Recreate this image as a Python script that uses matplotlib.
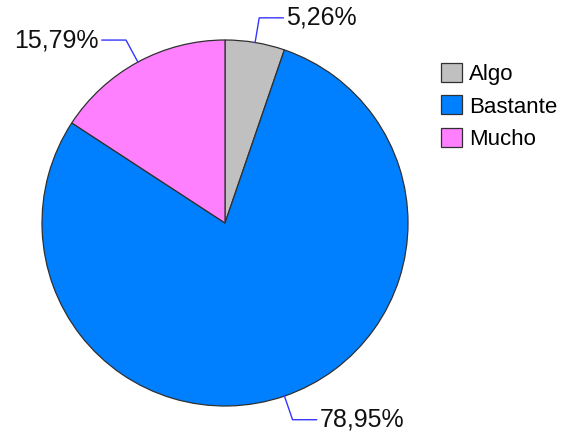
import numpy as np
import matplotlib.pyplot as plt
from matplotlib.patches import Patch

labels = ['Algo', 'Bastante', 'Mucho']
values = [5.26, 78.95, 15.79]
colors = ['#C0C0C0', '#0080FF', '#FF80FF']

W, H = 563, 436
fig = plt.figure(figsize=(W / 100, H / 100), dpi=100)
ax = fig.add_axes([0, 0, 1, 1])
plt.rcParams['font.family'] = ['Liberation Sans', 'DejaVu Sans']

cx, cy, r = 225, H - 223, 183
wedges, _ = ax.pie(values, colors=colors, startangle=90, counterclock=False,
                   center=(cx, cy), radius=r,
                   wedgeprops=dict(edgecolor='#303030', linewidth=0.9))
ax.set_xlim(0, W)
ax.set_ylim(0, H)
ax.set_aspect('equal')
ax.axis('off')

# leader lines with an elbow, then the label
for w, v in zip(wedges, values):
    ang = np.deg2rad((w.theta1 + w.theta2) / 2)
    x0, y0 = cx + r * np.cos(ang), cy + r * np.sin(ang)
    x1, y1 = cx + (r + 25) * np.cos(ang), cy + (r + 25) * np.sin(ang)
    side = 1 if np.cos(ang) >= 0 else -1
    x2 = x1 + side * 24
    ax.plot([x0, x1, x2], [y0, y1, y1], color='#3535FF', lw=1, clip_on=False)
    txt = f'{v:.2f}'.replace('.', ',') + '%'
    ax.text(x2 + side * 3, y1, txt, fontsize=18, color='#111111',
            ha='left' if side > 0 else 'right', va='center')

handles = [Patch(facecolor=c, edgecolor='#303030', linewidth=0.9) for c in colors]
fig.legend(handles, labels, loc='upper left', bbox_to_anchor=(430 / W, 1 - 52 / H),
           frameon=False, fontsize=16, handlelength=0.95, handleheight=0.95,
           handletextpad=0.3, labelspacing=0.45, borderpad=0)

fig.savefig('out.png', dpi=100, facecolor='white')
